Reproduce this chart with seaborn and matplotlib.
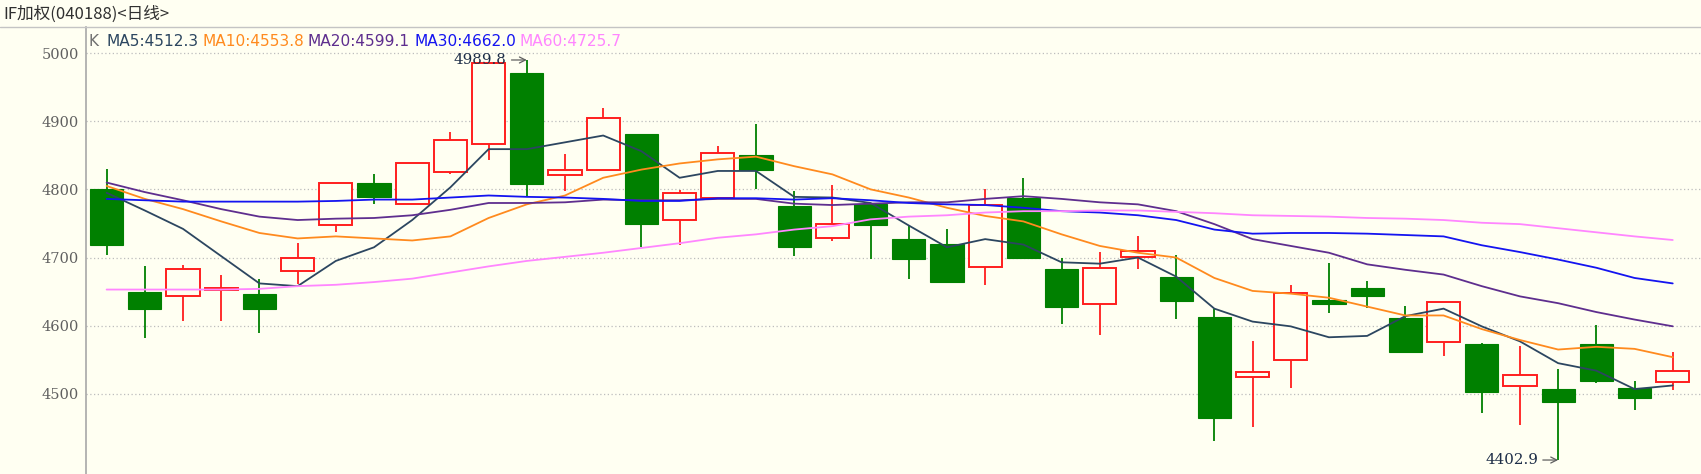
import numpy as np
import pandas as pd
import matplotlib
matplotlib.use("Agg")
import matplotlib.pyplot as plt
from matplotlib.lines import Line2D
import seaborn as sns

# ---------------- data (IF weighted, daily) ----------------
opens = [4800, 4649, 4644, 4653, 4647, 4680, 4747, 4809, 4779, 4825,
         4867, 4970, 4821, 4829, 4881, 4755, 4787, 4851, 4776, 4728,
         4778, 4727, 4720, 4686, 4788, 4683, 4632, 4701, 4672, 4613,
         4524, 4550, 4637, 4655, 4611, 4576, 4573, 4512, 4507, 4573,
         4508, 4518]
highs = [4830, 4687, 4689, 4674, 4669, 4722, 4809, 4822, 4839, 4884,
         4985, 4989.8, 4852, 4920, 4881, 4799, 4864, 4896, 4798, 4806,
         4778, 4748, 4742, 4800, 4816, 4700, 4708, 4731, 4703, 4625,
         4577, 4659, 4692, 4666, 4629, 4635, 4575, 4570, 4537, 4601,
         4519, 4561]
lows = [4703, 4582, 4607, 4607, 4589, 4661, 4738, 4778, 4779, 4822,
        4843, 4790, 4797, 4829, 4716, 4718, 4787, 4800, 4702, 4724,
        4698, 4668, 4662, 4660, 4698, 4603, 4586, 4683, 4610, 4431,
        4451, 4509, 4618, 4626, 4560, 4556, 4472, 4455, 4402.9, 4516,
        4476, 4506]
closes = [4718, 4624, 4683, 4655, 4624, 4700, 4809, 4789, 4839, 4872,
          4985, 4808, 4829, 4905, 4749, 4795, 4853, 4829, 4716, 4749,
          4748, 4698, 4664, 4777, 4700, 4628, 4685, 4709, 4636, 4465,
          4532, 4648, 4632, 4644, 4561, 4635, 4503, 4527, 4488, 4519,
          4494, 4533]

ma5 = [4795, 4769, 4742, 4702, 4662, 4658, 4695, 4715, 4755, 4803,
       4859, 4859, 4869, 4879, 4856, 4817, 4827, 4827, 4789, 4788,
       4780, 4747, 4715, 4727, 4719, 4693, 4691, 4700, 4672, 4625,
       4606, 4599, 4583, 4585, 4614, 4625, 4599, 4577, 4545, 4534,
       4507, 4512.3]
ma10 = [4805, 4786, 4771, 4753, 4736, 4728, 4731, 4728, 4725, 4731,
        4758, 4778, 4791, 4817, 4829, 4838, 4844, 4848, 4834, 4822,
        4800, 4788, 4773, 4761, 4753, 4734, 4717, 4707, 4700, 4670,
        4651, 4647, 4641, 4628, 4615, 4615, 4595, 4579, 4565, 4569,
        4566, 4553.8]
ma20 = [4810, 4796, 4784, 4771, 4760, 4755, 4757, 4758, 4762, 4770,
        4780, 4780, 4781, 4785, 4784, 4784, 4786, 4786, 4779, 4777,
        4779, 4781, 4781, 4786, 4790, 4786, 4781, 4778, 4768, 4749,
        4727, 4717, 4707, 4690, 4682, 4675, 4658, 4643, 4633, 4620,
        4609, 4599.1]
ma30 = [4786, 4784, 4782, 4782, 4782, 4782, 4783, 4785, 4785, 4788,
        4791, 4789, 4788, 4786, 4783, 4783, 4787, 4787, 4785, 4787,
        4784, 4780, 4778, 4777, 4773, 4768, 4766, 4762, 4755, 4741,
        4735, 4736, 4736, 4735, 4733, 4731, 4718, 4708, 4697, 4685,
        4670, 4662.0]
ma60 = [4653, 4653, 4653, 4653, 4654, 4658, 4660, 4664, 4669, 4678,
        4687, 4695, 4701, 4707, 4714, 4721, 4729, 4734, 4741, 4746,
        4756, 4760, 4762, 4766, 4768, 4768, 4769, 4769, 4767, 4765,
        4762, 4761, 4760, 4758, 4757, 4755, 4751, 4749, 4743, 4737,
        4731, 4725.7]

ma_names = ["MA5", "MA10", "MA20", "MA30", "MA60"]
ma_colors = ["#2C4660", "#FF8A1E", "#5E2E8E", "#1414F0", "#FF86FF"]
y_ticks = [4500, 4600, 4700, 4800, 4900, 5000]
title = "IF加权(040188)<日线>"

# ---------------- style ----------------
BG = "#FFFFF2"
sns.set_style("white", {"axes.facecolor": BG, "figure.facecolor": BG})
plt.rcParams["font.family"] = ["DejaVu Sans"]

W, H = 1701, 474
fig = plt.figure(figsize=(W / 100, H / 100), dpi=100)
ax = fig.add_axes([86 / W, 0, (W - 86) / W, (H - 27) / H])

# candles
df = pd.DataFrame({"open": opens, "high": highs, "low": lows, "close": closes})
df["x"] = np.arange(len(df))
up = df["close"] >= df["open"]
RED, GREEN = "#FF1E1E", "#008000"
bw = 0.87

dn = df[~up]
ax.vlines(dn["x"], dn["low"], dn["high"], color=GREEN, lw=1.3, zorder=2)
ax.bar(dn["x"], dn["open"] - dn["close"], bottom=dn["close"], width=bw,
       color=GREEN, edgecolor=GREEN, lw=0.8, zorder=3)

upd = df[up]
ax.vlines(upd["x"], upd["close"], upd["high"], color=RED, lw=1.3, zorder=2)
ax.vlines(upd["x"], upd["low"], upd["open"], color=RED, lw=1.3, zorder=2)
ax.bar(upd["x"], (upd["close"] - upd["open"]).clip(lower=1.2), bottom=upd["open"],
       width=bw, facecolor=BG, edgecolor=RED, lw=1.4, zorder=3)

# moving averages
ma_df = pd.DataFrame({"x": df["x"], "MA5": ma5, "MA10": ma10, "MA20": ma20,
                      "MA30": ma30, "MA60": ma60})
long_df = ma_df.melt(id_vars="x", var_name="line", value_name="value")
sns.lineplot(data=long_df, x="x", y="value", hue="line", hue_order=ma_names,
             palette=ma_colors, linewidth=1.3, legend=False, ax=ax, zorder=4)

# axes
ax.set_xlim(-0.54, 41.74)
ax.set_ylim(4382.4, 5038.2)
ax.set_yticks(y_ticks)
ax.set_yticklabels([str(t) for t in y_ticks], family="DejaVu Serif",
                   fontsize=10.5, color="#606060")
ax.tick_params(axis="y", length=0, pad=5)
ax.set_xticks([])
ax.set_xlabel("")
ax.set_ylabel("")
for s in ["top", "right", "bottom"]:
    ax.spines[s].set_visible(False)
ax.spines["left"].set_color("#A8A8A8")
ax.spines["left"].set_linewidth(1.2)
ax.yaxis.grid(True, linestyle=(0, (1, 2)), color="#BDBDBD", lw=0.9)
ax.set_axisbelow(True)

# highest / lowest markers
imax = int(np.argmax(highs))
imin = int(np.argmin(lows))
for i, v in [(imax, highs[imax]), (imin, lows[imin])]:
    ax.annotate(f"{v:.1f}", xy=(i, v), xytext=(-20, 0), textcoords="offset pixels",
                ha="right", va="center", family="DejaVu Serif", fontsize=10.8,
                color="#1E2E48",
                arrowprops=dict(arrowstyle="->", color="#606060", lw=0.9,
                                shrinkA=1, shrinkB=0), zorder=6)

# title bar
fig.add_artist(Line2D([0, 1], [1 - 26.5 / H] * 2, color="#C4C4C4", lw=1))
fig.text(3 / W, 1 - 14 / H, title, family=["Noto Sans CJK SC", "DejaVu Sans"],
         fontsize=12, color="#303030", va="center", ha="left")

# MA values header
prev = fig.text(88 / W, 1 - 41 / H, "K", fontsize=11.1, color="#707070",
                va="center", ha="left")
gap = 8
for name, vals, col in zip(ma_names, [ma5, ma10, ma20, ma30, ma60], ma_colors):
    prev = ax.annotate(f"{name}:{vals[-1]:.1f}", xy=(1, 0), xycoords=prev,
                       xytext=(gap, 0), textcoords="offset pixels",
                       ha="left", va="bottom", fontsize=11.1, color=col)
    gap = 4

fig.savefig("out.png", dpi=100, facecolor=BG)
